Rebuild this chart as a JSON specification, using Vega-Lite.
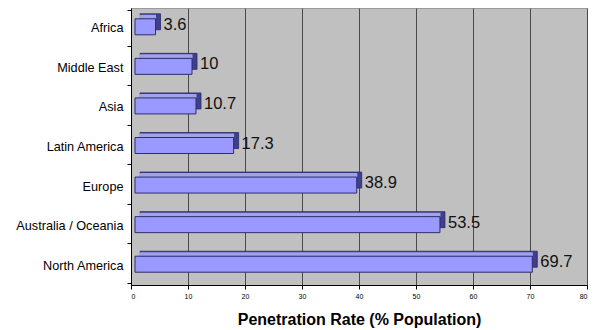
{
  "$schema": "https://vega.github.io/schema/vega-lite/v6.json",
  "width": 456,
  "height": 277,
  "autosize": {"type": "none"},
  "padding": {"left": 131, "top": 8, "right": 13, "bottom": 45},
  "background": "#ffffff",
  "config": {
    "font": "Liberation Sans",
    "view": {"fill": "#c0c0c0", "stroke": "#9a9a9a", "strokeWidth": 1}
  },
  "data": {
    "values": [
      {"region": "Africa", "rate": 3.6},
      {"region": "Middle East", "rate": 10},
      {"region": "Asia", "rate": 10.7},
      {"region": "Latin America", "rate": 17.3},
      {"region": "Europe", "rate": 38.9},
      {"region": "Australia / Oceania", "rate": 53.5},
      {"region": "North America", "rate": 69.7}
    ]
  },
  "encoding": {
    "y": {
      "field": "region",
      "type": "nominal",
      "sort": null,
      "axis": {
        "title": null,
        "labelFontSize": 12.7,
        "labelColor": "#000000",
        "labelPadding": 4,
        "tickBand": "extent",
        "tickSize": 4,
        "tickColor": "#000000",
        "domainColor": "#000000",
        "grid": false
      }
    }
  },
  "layer": [
    {
      "mark": {"type": "bar", "size": 16, "xOffset": 9, "x2Offset": 9, "yOffset": -6, "fill": "#3f3f8c", "stroke": "#2a2a66", "strokeWidth": 0.8},
      "encoding": {
        "x": {
          "field": "rate",
          "type": "quantitative",
          "scale": {"domain": [0, 80], "nice": false},
          "axis": {
            "values": [0, 10, 20, 30, 40, 50, 60, 70, 80],
            "title": "Penetration Rate (% Population)",
            "titleFontSize": 16,
            "titleFontWeight": "bold",
            "titleColor": "#000000",
            "titlePadding": 12,
            "labelFontSize": 7,
            "labelColor": "#000000",
            "labelPadding": 3,
            "tickSize": 4,
            "tickColor": "#000000",
            "domainColor": "#000000",
            "grid": true,
            "gridColor": "#4a4a4a",
            "gridWidth": 1
          }
        },
        "x2": {"datum": 0}
      }
    },
    {
      "mark": {"type": "bar", "size": 4, "xOffset": 4.5, "x2Offset": 8, "yOffset": -11, "fill": "#a2a2e8"},
      "encoding": {
        "x": {"field": "rate", "type": "quantitative"},
        "x2": {"datum": 0}
      }
    },
    {
      "mark": {"type": "bar", "size": 16, "xOffset": 4, "x2Offset": 4, "yOffset": -1, "fill": "#9999ff", "stroke": "#2e2e6e", "strokeWidth": 1},
      "encoding": {
        "x": {"field": "rate", "type": "quantitative"},
        "x2": {"datum": 0}
      }
    },
    {
      "mark": {"type": "text", "align": "left", "baseline": "middle", "dx": 12, "yOffset": -3, "fontSize": 16.5, "color": "#111111"},
      "encoding": {
        "x": {"field": "rate", "type": "quantitative"},
        "text": {"field": "rate", "type": "quantitative"}
      }
    }
  ]
}
